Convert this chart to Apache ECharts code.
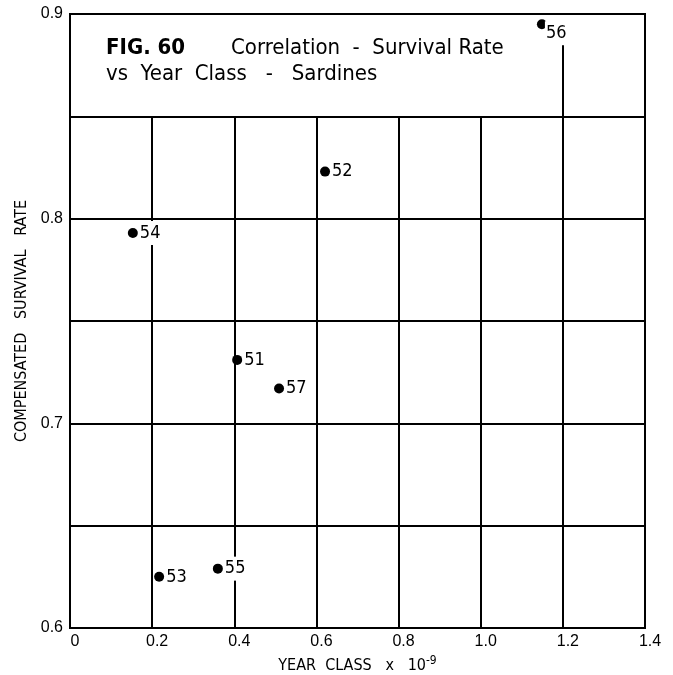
<!DOCTYPE html>
<html><head><meta charset="utf-8">
<script src="https://cdn.jsdelivr.net/npm/echarts@6/dist/echarts.min.js"></script>
<style>html,body{margin:0;padding:0;background:#fff}#c{width:673px;height:675px}</style>
</head><body><div id="c"></div>
<script>
const yearLabels = ['51','52','53','54','55','56','57'];
const yearClass = [0.407, 0.621, 0.217, 0.153, 0.360, 1.149, 0.509];
const survival  = [0.731, 0.823, 0.625, 0.793, 0.629, 0.895, 0.717];
const xTicks = [0, 0.2, 0.4, 0.6, 0.8, 1.0, 1.2, 1.4];
const yTicks = [0.6, 0.7, 0.8, 0.9];
const vGridX = [0.2, 0.4, 0.6, 0.8, 1.0];
const vGridTop = 0.85;
const vGrid56X = 1.2, vGrid56Top = 0.886;

const font = '"Liberation Sans Narrow", "DejaVu Sans Condensed", sans-serif';
const tickFont = '"Liberation Sans", Arial, sans-serif';
const chart = echarts.init(document.getElementById('c'));
const pts = yearClass.map((x,i)=>({value:[x, survival[i]], name: yearLabels[i],
  label: yearLabels[i]==='56' ? {position:[8,2]} : {position:'right'}}));
const vLines = vGridX.map(x=>[{coord:[x,0.6]},{coord:[x,vGridTop]}]);
vLines.push([{coord:[vGrid56X,0.6]},{coord:[vGrid56X,vGrid56Top]}]);

chart.setOption({
  animation:false,
  grid:{left:70,right:28,top:14,bottom:47,outerBoundsMode:'none',containLabel:false,
    show:true,borderColor:'#000',borderWidth:2},
  xAxis:{type:'value',min:0,max:1.4,interval:0.2,
    axisLine:{show:false},axisTick:{show:false},splitLine:{show:false},
    axisLabel:{color:'#000',fontSize:16,fontFamily:tickFont,margin:6,
      formatter:v=>{const r=Math.round(v*10)/10; return r===0?'0':r.toFixed(1);}, padding:[0,0,0,10]},
    name:'YEAR  CLASS   x   10{s|-9}',nameLocation:'middle',nameGap:26,
    nameTextStyle:{color:'#000',fontSize:16,fontFamily:font,rich:{s:{fontSize:12,verticalAlign:'top',padding:[0,0,10,0],fontFamily:font,color:'#000'}}}},
  yAxis:{type:'value',min:0.6,max:0.9,interval:0.05,
    axisLine:{show:false},axisTick:{show:false},
    splitLine:{show:true,lineStyle:{color:'#000',width:2}},
    axisLabel:{color:'#000',fontSize:16,fontFamily:tickFont,margin:7,verticalAlign:'middle',
      formatter:v=>{const k=Math.round(v*100); return k%10===0?(k/100).toFixed(1):'';}},
    name:'COMPENSATED   SURVIVAL   RATE',nameLocation:'middle',nameGap:35,
    nameTextStyle:{color:'#000',fontSize:16,fontFamily:font}},
  graphic:[
    {type:'text',left:106,top:37,style:{text:'FIG. 60',font:'bold 22px '+font,fill:'#000'}},
    {type:'text',left:231,top:37,style:{text:'Correlation  -  Survival Rate',font:'22px '+font,fill:'#000'}},
    {type:'text',left:106,top:63,style:{text:'vs  Year  Class   -   Sardines',font:'22px '+font,fill:'#000'}}
  ],
  series:[
    {type:'line',data:[],markLine:{silent:true,symbol:'none',label:{show:false},
      lineStyle:{color:'#000',width:2,type:'solid'},data:vLines}},
    {type:'scatter',data:pts,symbolSize:10,itemStyle:{color:'#000',opacity:1},z:5,
      label:{show:true,formatter:p=>p.name,color:'#000',fontSize:18,fontFamily:font,
        backgroundColor:'#fff',padding:[3,2,3,1],distance:1}}
  ]
});
</script></body></html>
